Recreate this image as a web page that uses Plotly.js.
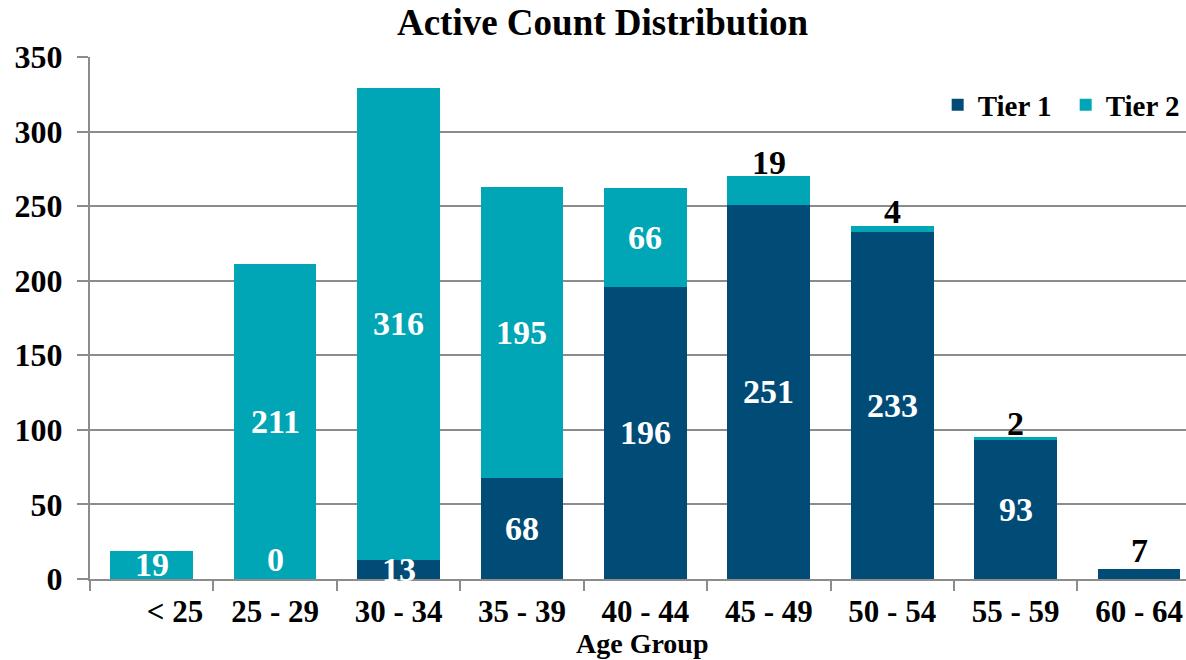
<!DOCTYPE html>
<html>
<head>
<meta charset="utf-8">
<script src="https://cdn.plot.ly/plotly-3.0.1.min.js"></script>
<style>html,body{margin:0;padding:0;background:#fff;}#chart{width:1186px;height:660px;}</style>
</head>
<body>
<div id="chart"></div>
<script>
const categories = ["< 25", "25 - 29", "30 - 34", "35 - 39", "40 - 44", "45 - 49", "50 - 54", "55 - 59", "60 - 64"];
const tickLabels = ["\u00a0\u00a0\u00a0\u00a0\u00a0\u00a0< 25", "25 - 29", "30 - 34", "35 - 39", "40 - 44", "45 - 49", "50 - 54", "55 - 59", "60 - 64"];
const tier1 = [null, 0, 13, 68, 196, 251, 233, 93, 7];
const tier2 = [19, 211, 316, 195, 66, 19, 4, 2, null];
const seriesNames = ["Tier 1", "Tier 2"];
const colors = ["#014b77", "#00a6b6"];
const FONT = "Liberation Serif";

const traces = [
  {type: "bar", name: seriesNames[0], x: categories, y: tier1.map(v => v === null ? 0 : v), marker: {color: colors[0]}, hoverinfo: "x+y+name"},
  {type: "bar", name: seriesNames[1], x: categories, y: tier2.map(v => v === null ? 0 : v), marker: {color: colors[1]}, hoverinfo: "x+y+name"}
];

const LBL = 34;
const annotations = [];
categories.forEach((c, i) => {
  const a = tier1[i], b = tier2[i];
  const v1 = a === null ? 0 : a;
  if (a !== null) {
    if (b === null) {
      annotations.push({x: c, y: v1, text: "<b>" + a + "</b>", showarrow: false, yanchor: "middle", yshift: 18, font: {family: FONT, size: LBL, color: "#000"}});
    } else {
      annotations.push({x: c, y: v1 / 2, text: "<b>" + a + "</b>", showarrow: false, yanchor: "middle", yshift: a === 0 ? 20 : 0, font: {family: FONT, size: LBL, color: "#fff"}});
    }
  }
  if (b !== null) {
    if (v1 > 0 && b < 30) {
      annotations.push({x: c, y: v1 + b, text: "<b>" + b + "</b>", showarrow: false, yanchor: "middle", yshift: 14, font: {family: FONT, size: LBL, color: "#000"}});
    } else {
      annotations.push({x: c, y: v1 + b / 2, text: "<b>" + b + "</b>", showarrow: false, yanchor: "middle", font: {family: FONT, size: LBL, color: "#fff"}});
    }
  }
});
annotations.push({xref: "paper", yref: "paper", x: 0.504, y: -0.1245, xanchor: "center", yanchor: "middle", text: "<b>Age Group</b>", showarrow: false, font: {family: FONT, size: 28, color: "#000"}});

const layout = {
  width: 1186, height: 660,
  margin: {l: 90, r: 0, t: 57, b: 81, autoexpand: false},
  paper_bgcolor: "#fff", plot_bgcolor: "#fff",
  barmode: "stack", bargap: 0.33,
  font: {family: FONT, color: "#000"},
  title: {text: "<b>Active Count Distribution</b>", x: 0.508, xanchor: "center", y: 0.967, yref: "container", yanchor: "middle", font: {family: FONT, size: 37, color: "#000"}},
  showlegend: true,
  legend: {orientation: "h", x: 1.007, xanchor: "right", y: 0.908, yanchor: "middle", font: {family: FONT, size: 29, color: "#000", weight: "bold"}, bgcolor: "rgba(0,0,0,0)", itemwidth: 30, entrywidth: 83, entrywidthmode: "pixels", traceorder: "normal"},
  xaxis: {
    type: "category", range: [-0.5, 8.38], tickmode: "array", tickvals: categories, ticktext: tickLabels,
    showline: true, linecolor: "#8c8c8c", linewidth: 2,
    ticks: "outside", tickson: "boundaries", ticklen: 10, tickcolor: "#8c8c8c", tickwidth: 2,
    tickfont: {family: FONT, size: 31, color: "#000", weight: "bold"}, ticklabelstandoff: 4,
    showgrid: false, automargin: false, fixedrange: true
  },
  yaxis: {
    range: [0, 350], dtick: 50, tick0: 0,
    showline: true, linecolor: "#8c8c8c", linewidth: 2,
    ticks: "outside", ticklen: 11, tickcolor: "#8c8c8c", tickwidth: 2,
    showgrid: true, gridcolor: "#8c8c8c", gridwidth: 2, zeroline: false,
    tickfont: {family: FONT, size: 32, color: "#000", weight: "bold"}, ticklabelstandoff: 8,
    automargin: false, fixedrange: true
  },
  annotations: annotations
};

Plotly.newPlot("chart", traces, layout, {displayModeBar: false, staticPlot: true});
</script>
</body>
</html>
